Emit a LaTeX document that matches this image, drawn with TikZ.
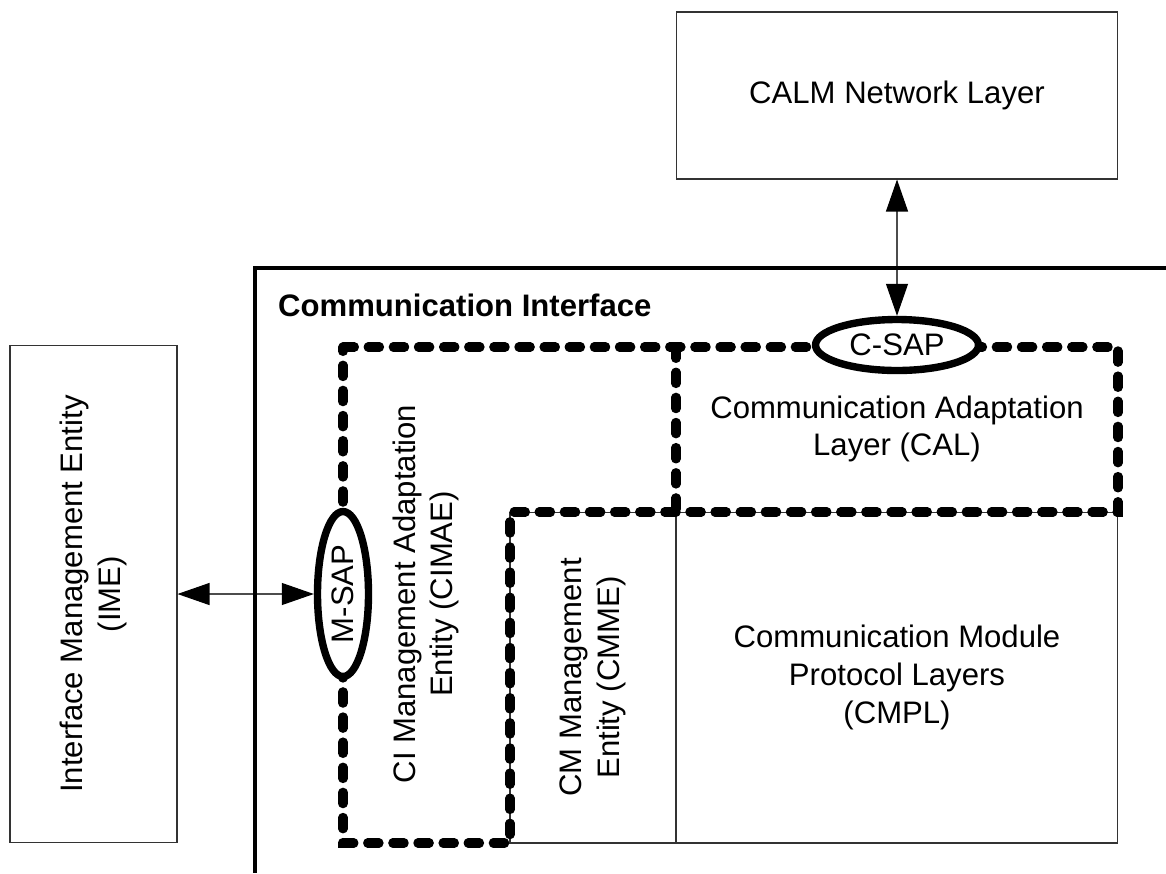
\documentclass[tikz,border=0pt]{standalone}
\usepackage{fontspec}
\setmainfont{Liberation Sans}
\usetikzlibrary{shapes.geometric,arrows.meta}

\begin{document}
\begin{tikzpicture}[x=0.02cm,y=-0.02cm,
        font=\fontsize{17.7}{21.5}\selectfont,
        box/.style={draw=black!80,line width=0.6pt,align=center,inner sep=0pt},
        sap/.style={ellipse,draw,line width=4.2pt,fill=white,inner sep=0pt},
        dashline/.style={line width=5.2pt,line cap=round,dash pattern=on 6.5pt off 7.8pt},
        link/.style={line width=0.6pt,draw=black!70,{Triangle[length=0.64cm,width=0.44cm,color=black]}-{Triangle[length=0.64cm,width=0.44cm,color=black]}}]
            \useasboundingbox (0,0) rectangle (1166,873);
            % thin boxes
            \node [box,minimum width=8.84cm,minimum height=3.34cm] (calm) at (897,95.5) {CALM Network Layer};
            \node [box,rotate=90,minimum width=9.96cm,minimum height=3.34cm] (ime) at (93.5,594) {Interface Management Entity\\(IME)};
            \node [box,rotate=90,minimum width=6.62cm,minimum height=3.32cm] (cmme) at (593,677.5) {CM Management\\Entity (CMME)};
            \node [box,minimum width=8.84cm,minimum height=6.62cm] (cmpl) at (897,677.5) {Communication Module\\Protocol Layers\\(CMPL)};
            % dashed areas
            \draw [dashline] (343,347)--(1118,347)--(1118,512)--(510,512)--(510,843)--(343,843)--cycle;
            \draw [dashline] (676,347)--(676,512);
            \node [align=center,rotate=90] (cimae) at (426,594) {CI Management Adaptation\\Entity (CIMAE)};
            \node [align=center] (cal) at (897,429) {Communication Adaptation\\Layer (CAL)};
            % access points
            \node [sap,rotate=90,minimum width=3.3cm,minimum height=1.02cm] (msap) at (343,594) {M-SAP};
            \node [sap,minimum width=3.26cm,minimum height=1.02cm] (csap) at (897,345) {C-SAP};
            \draw [link] (ime)--(msap);
            \draw [link] (calm)--(csap);
            % interface border
            \draw [line width=2.3pt] (1166,268)--(255,268)--(255,873);
            \node [anchor=west,font=\fontsize{17.7}{21.5}\selectfont\bfseries] (ci) at (272,305) {Communication Interface};
        \end{tikzpicture}
\end{document}
